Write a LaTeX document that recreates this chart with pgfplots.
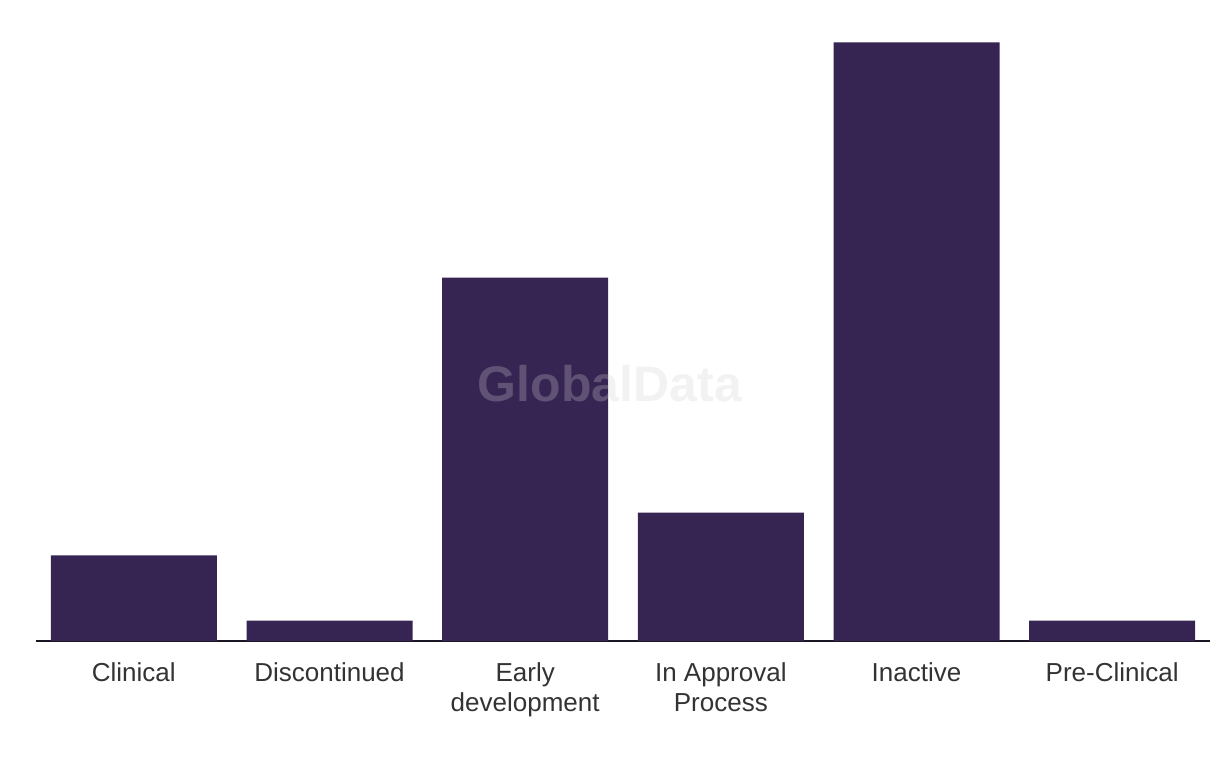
\documentclass[border=0pt]{standalone}
\usepackage{pgfplots}
\pgfplotsset{compat=1.18}
\usepackage{fontspec}
\setmainfont{Liberation Sans}
\definecolor{barc}{RGB}{54,36,82}
\definecolor{labc}{RGB}{51,51,51}
\definecolor{axc}{RGB}{26,22,36}
\definecolor{wm}{RGB}{208,208,208}
\begin{document}
\begin{tikzpicture}
\path[use as bounding box] (-27pt,-93.75pt) rectangle (888pt,480.75pt);
\begin{axis}[
  at={(0,0)}, anchor=south west,
  scale only axis,
  width=880.5pt, height=465pt,
  xmin=-0.5, xmax=5.5, ymin=0, ymax=29,
  axis x line=bottom, axis y line=none,
  axis line style={axc, line width=1.5pt, -},
  x axis line style={-},
  xtick={0,1,2,3,4,5},
  xticklabels={Clinical, Discontinued, {Early\\development}, {In Approval\\Process}, Inactive, Pre-Clinical},
  major tick length=0pt,
  xticklabel style={align=center, font=\fontsize{19.5}{22.5}\selectfont, text=labc, yshift=-13pt},
  ytick=\empty,
  clip=false,
]
\addplot[ybar, bar width=124.5pt, fill=barc, draw=none] coordinates {
  (0,4) (1,0.95) (2,17) (3,6) (4,28) (5,0.95)
};
\node[font=\fontsize{37.5}{40}\selectfont\bfseries, text=wm, text opacity=0.27] at (axis cs:2.433,12.06) {GlobalData};
\end{axis}
\end{tikzpicture}
\end{document}
